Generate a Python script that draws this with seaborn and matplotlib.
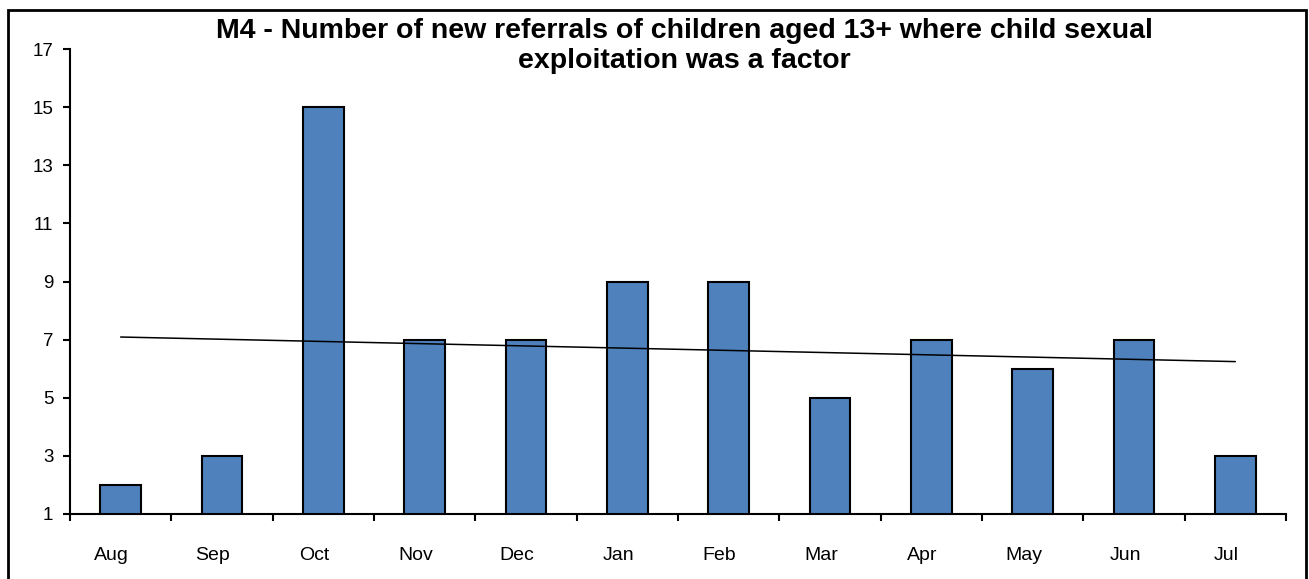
import numpy as np
import pandas as pd
import matplotlib
matplotlib.use("Agg")
import matplotlib.pyplot as plt
import matplotlib.transforms as mtransforms
from matplotlib.patches import Rectangle
import seaborn as sns

months = ["Aug", "Sep", "Oct", "Nov", "Dec", "Jan", "Feb", "Mar", "Apr", "May", "Jun", "Jul"]
referrals = [2, 3, 15, 7, 7, 9, 9, 5, 7, 6, 7, 3]
y_ticks = [1, 3, 5, 7, 9, 11, 13, 15, 17]
title = "M4 - Number of new referrals of children aged 13+ where child sexual\nexploitation was a factor"

sns.set_theme(style="white")
plt.rcParams['font.family'] = ['Liberation Sans', 'DejaVu Sans']
plt.rcParams['text.color'] = 'black'

W, H = 1309, 579
fig = plt.figure(figsize=(W / 100, H / 100), dpi=100)
ax = fig.add_axes([70 / W, 1 - 514 / H, (1286 - 70) / W, (514 - 49) / H])

df = pd.DataFrame({"month": months, "referrals": referrals})
sns.barplot(data=df, x="month", y="referrals", color="#4F81BD", saturation=1,
            edgecolor="black", linewidth=1.5, width=0.4, ax=ax)

# linear trendline
xs = np.arange(len(referrals))
slope, intercept = np.polyfit(xs, referrals, 1)
ax.plot(xs, slope * xs + intercept, color="black", linewidth=1.1)

ax.set_xlim(-0.5, len(months) - 0.5)
ax.set_ylim(1, 17)
ax.set_yticks(y_ticks)
ax.set_xlabel("")
ax.set_ylabel("")
for s in ["top", "right"]:
    ax.spines[s].set_visible(False)
for s in ["left", "bottom"]:
    ax.spines[s].set_color("black")
    ax.spines[s].set_linewidth(1.5)

ax.tick_params(axis="y", which="major", direction="out", length=5, width=1.5,
               color="black", labelsize=13.5, labelcolor="black", pad=7, left=True)
ax.set_xticks(xs)
ax.set_xticks(np.arange(-0.5, len(months), 1), minor=True)
ax.tick_params(axis="x", which="major", length=0, labelsize=14, labelcolor="black", pad=24)
ax.tick_params(axis="x", which="minor", direction="out", length=5, width=1.5,
               color="black", bottom=True)
shift = mtransforms.ScaledTranslation(-9 / 100, 0, fig.dpi_scale_trans)
for lbl in ax.get_xticklabels():
    lbl.set_transform(lbl.get_transform() + shift)

fig.text(0.523, 1 - 18 / H, title, ha="center", va="top", fontsize=20.5,
         fontweight="bold", linespacing=1.22, color="black")

fig.patches.append(Rectangle((8 / W, -0.05), (1306 - 8) / W, 1.05 - 10 / H,
                             transform=fig.transFigure, fill=False,
                             edgecolor="black", linewidth=2))

fig.savefig("out.png", dpi=100)
